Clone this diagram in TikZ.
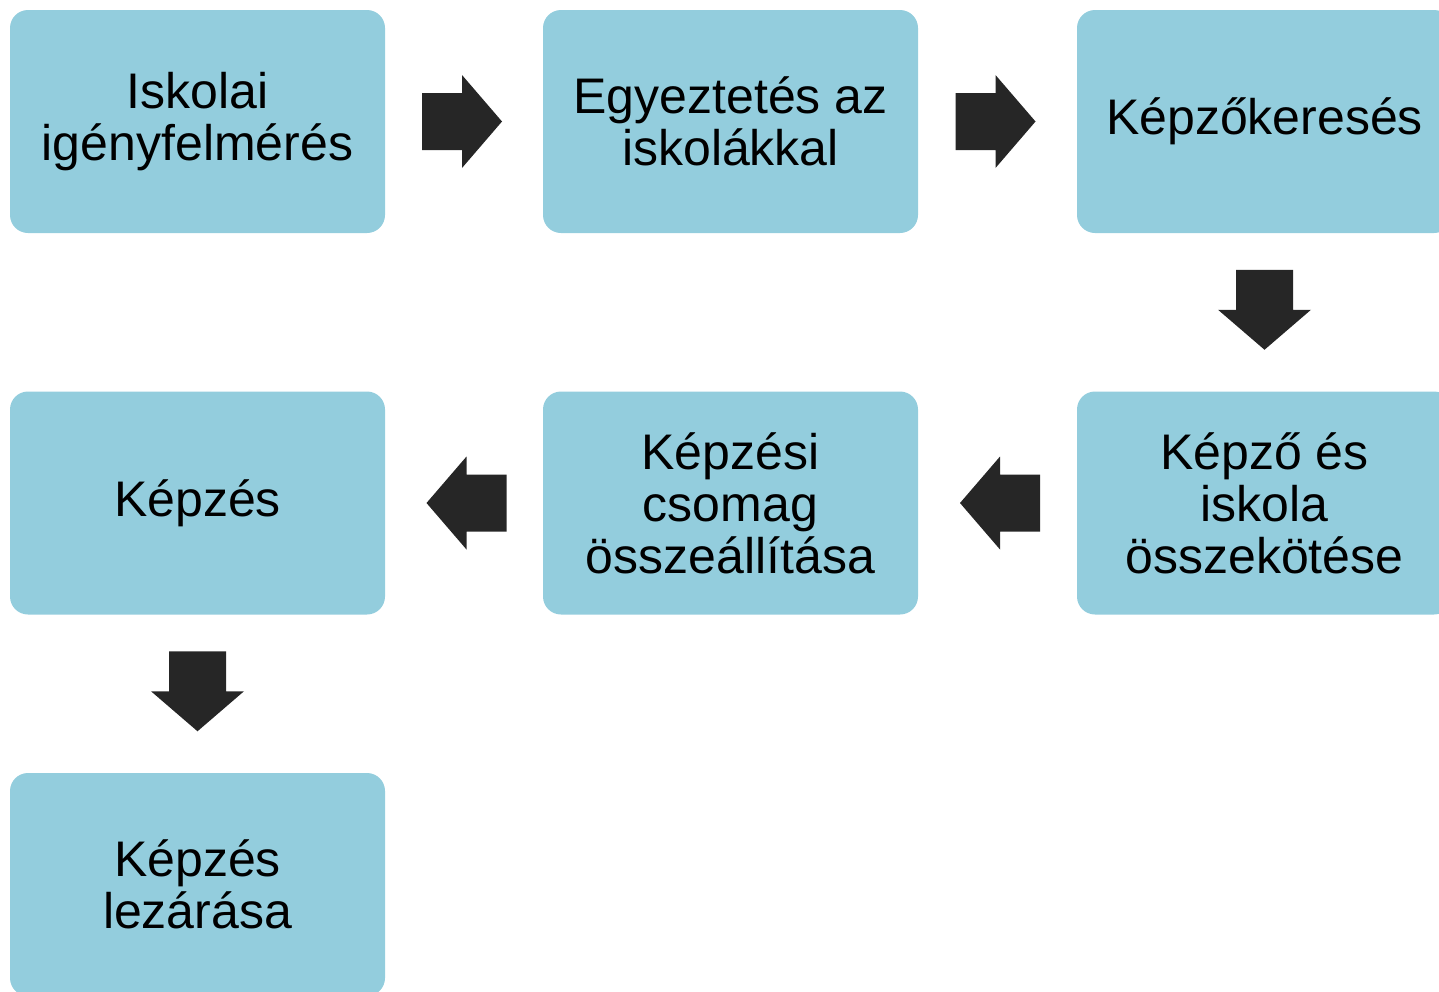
\documentclass[tikz,border=0pt]{standalone}
\usepackage{fontspec}
\setmainfont{Liberation Sans}
\usetikzlibrary{calc}
\definecolor{boxblue}{HTML}{93CDDD}
\definecolor{arrowdark}{HTML}{262626}
\tikzset{
  stepbox/.style={fill=boxblue, draw=none, rounded corners=9pt,
    minimum width=187.5pt, minimum height=111.5pt, align=center,
    text=black, font=\fontsize{25pt}{26pt}\selectfont, inner sep=0pt},
  pics/blockarrow/.style={code={
    \fill[arrowdark] (-40,-28.5) -- (0,-28.5) -- (0,-46.5) -- (40,0) -- (0,46.5) -- (0,28.5) -- (-40,28.5) -- cycle;
  }}
}
\begin{document}
\begin{tikzpicture}[x=0.5pt,y=-0.5pt]
\useasboundingbox (0,0) rectangle (1439,991);
\clip (0,0) rectangle (1439,991);
\node[stepbox] (b1) at (197.5,121.5) {Iskolai\\igényfelmérés};
\node[stepbox] (b2) at (730.5,121.5) {Egyeztetés az\\iskolákkal};
\node[stepbox] (b3) at (1264.5,121.5) {Képzőkeresés};
\node[stepbox] (b4) at (1264.5,503) {Képző és\\iskola\\összekötése};
\node[stepbox] (b5) at (730.5,503) {Képzési\\csomag\\összeállítása};
\node[stepbox] (b6) at (197.5,503) {Képzés};
\node[stepbox] (b7) at (197.5,884.5) {Képzés\\lezárása};
\path ($(b1.east)!0.5!(b2.west)+(-2,0)$) pic {blockarrow};
\path ($(b2.east)!0.5!(b3.west)+(-2,0)$) pic {blockarrow};
\path ($(b3.south)!0.5!(b4.north)+(0,-2.5)$) pic[rotate=-90] {blockarrow};
\path ($(b4.west)!0.5!(b5.east)+(2.5,0)$) pic[rotate=180] {blockarrow};
\path ($(b5.west)!0.5!(b6.east)+(2.5,0)$) pic[rotate=180] {blockarrow};
\path ($(b6.south)!0.5!(b7.north)+(0,-2.5)$) pic[rotate=-90] {blockarrow};
\end{tikzpicture}
\end{document}
